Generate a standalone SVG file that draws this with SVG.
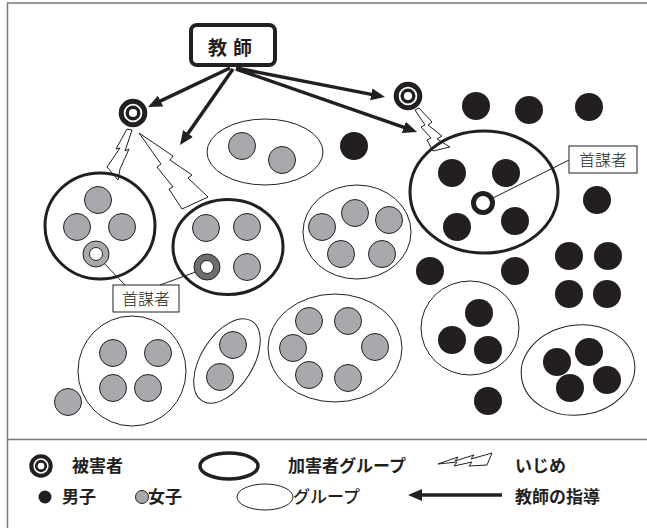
<svg xmlns="http://www.w3.org/2000/svg" width="647" height="528" viewBox="0 0 647 528">
<style>
.frame{fill:none;stroke:#7a7a7a;stroke-width:1.5}
.g{fill:#a7a9ac;stroke:#231f20;stroke-width:1}
.b{fill:#231f20}
.bold{fill:none;stroke:#231f20;stroke-width:3}
.thin{fill:none;stroke:#231f20;stroke-width:1}
.bolt{fill:#fff;stroke:#231f20;stroke-width:1;stroke-linejoin:miter}
.arr{fill:none;stroke:#231f20;stroke-width:3.5}
.lead{fill:none;stroke:#231f20;stroke-width:1}
.lbl{fill:#fff;stroke:#231f20;stroke-width:1}
.jp{font-family:"Noto Sans CJK JP","Noto Sans CJK SC",sans-serif;fill:#231f20}
.lt{font-size:16px;font-weight:300}
.lg{font-size:17px;font-weight:700}
</style>
<defs>
<marker id="ah" markerWidth="14" markerHeight="12" refX="4" refY="6" orient="auto" markerUnits="userSpaceOnUse">
<path d="M0,0 L14,6 L0,12 z" fill="#231f20"/>
</marker>
<g id="victim">
<circle r="11.8" fill="#fff" stroke="#231f20" stroke-width="5"/>
<circle r="5.8" fill="#fff" stroke="#231f20" stroke-width="3.4"/>
</g>
</defs>

<!-- frame -->
<path class="frame" d="M7.5,528 V3 H647"/>
<line class="frame" x1="7.5" y1="439.5" x2="647" y2="439.5"/>

<!-- teacher -->
<g id="teacher">
<rect x="191" y="25" width="84" height="40" rx="6" fill="#fff" stroke="#231f20" stroke-width="4"/>
<text class="jp" x="233" y="54.5" font-size="19" font-weight="700" text-anchor="middle" letter-spacing="6">教師</text>
</g>

<!-- connectors -->
<g id="connectors">
<path class="arr" d="M230,68 L157,102.7" marker-end="url(#ah)"/>
<path class="arr" d="M233,69 L185.7,136.8" marker-end="url(#ah)"/>
<path class="arr" d="M236,68 L375.2,95.1" marker-end="url(#ah)"/>
<path class="arr" d="M236,69 L407.6,128.7" marker-end="url(#ah)"/>
<polygon class="bolt" points="127,129 132,130 125,151 129,149 120,169 118,180 107,167 120,148 116,149"/>
<polygon class="bolt" points="139,133 173,156 170,160 192,175 188,178 208,197 182,209 169,189 173,187 157,167 161,164"/>
<polygon class="bolt" points="415,110 419,108 432,122 428,125 442,136 437,139 450,147 433,151 427,140 431,138 421,127 425,125"/>
<line class="lead" x1="100" y1="259" x2="125" y2="285"/>
<line class="lead" x1="160" y1="285" x2="201" y2="270"/>
<line class="lead" x1="569" y1="160" x2="489" y2="200"/>
</g>

<!-- victims -->
<g id="victim-left"><use href="#victim" x="133" y="113"/></g>
<g id="victim-right"><use href="#victim" x="408" y="96"/></g>

<!-- bully group left -->
<g id="bully-group-1">
<ellipse class="bold" cx="100" cy="226" rx="55" ry="53"/>
<circle class="g" cx="98" cy="200" r="13.5"/>
<circle class="g" cx="77" cy="227" r="13.5"/>
<circle class="g" cx="122" cy="227" r="13.5"/>
<circle class="g" cx="96" cy="254" r="13"/>
<circle fill="#fff" stroke="#231f20" stroke-width="1" cx="96" cy="254" r="6.5"/>
</g>

<!-- bully group 2 -->
<g id="bully-group-2">
<ellipse class="bold" cx="228" cy="247" rx="55" ry="47.5"/>
<circle class="g" cx="206" cy="228" r="13.5"/>
<circle class="g" cx="247" cy="227" r="13.5"/>
<circle class="g" cx="247" cy="267" r="13.5"/>
<circle fill="#6d6e71" stroke="#231f20" stroke-width="1" cx="207" cy="267" r="13"/>
<circle fill="#fff" stroke="#231f20" stroke-width="1" cx="207" cy="267" r="6.5"/>
</g>

<!-- bully group right (boys) -->
<g id="bully-group-3">
<ellipse class="bold" cx="484" cy="192" rx="74" ry="61"/>
<circle class="b" cx="452" cy="173" r="14"/>
<circle class="b" cx="506" cy="173" r="14"/>
<circle class="b" cx="457" cy="227" r="14"/>
<circle class="b" cx="515" cy="221" r="14"/>
<circle fill="#fff" stroke="#231f20" stroke-width="5" cx="483" cy="203" r="9.5"/>
</g>

<!-- leader labels -->
<g id="label-leader-left">
<rect class="lbl" x="113" y="285" width="66" height="27"/>
<text class="jp lt" x="146" y="304.5" text-anchor="middle">首謀者</text>
</g>
<g id="label-leader-right">
<rect class="lbl" x="569" y="146" width="68" height="27"/>
<text class="jp lt" x="603" y="165.5" text-anchor="middle">首謀者</text>
</g>

<!-- girl groups -->
<g id="group-girls-2">
<ellipse class="thin" cx="265" cy="152" rx="58" ry="33"/>
<circle class="g" cx="242" cy="146" r="13.5"/>
<circle class="g" cx="282" cy="160" r="13.5"/>
</g>
<g id="group-girls-5">
<ellipse class="thin" cx="357" cy="232" rx="54" ry="47"/>
<circle class="g" cx="322" cy="227" r="13.5"/>
<circle class="g" cx="355" cy="213" r="13.5"/>
<circle class="g" cx="389" cy="220" r="13.5"/>
<circle class="g" cx="341" cy="254" r="13.5"/>
<circle class="g" cx="382" cy="254" r="13.5"/>
</g>
<g id="group-girls-4">
<ellipse class="thin" cx="132" cy="371" rx="54" ry="55"/>
<circle class="g" cx="113" cy="353" r="13.5"/>
<circle class="g" cx="158" cy="353" r="13.5"/>
<circle class="g" cx="113" cy="388" r="13.5"/>
<circle class="g" cx="148" cy="388" r="13.5"/>
</g>
<g id="girl-alone"><circle class="g" cx="68" cy="402" r="13.5"/></g>
<g id="group-girls-pair">
<ellipse class="thin" cx="227" cy="361" rx="26" ry="47" transform="rotate(32 227 361)"/>
<circle class="g" cx="233" cy="345" r="13.5"/>
<circle class="g" cx="220" cy="377" r="13.5"/>
</g>
<g id="group-girls-6">
<ellipse class="thin" cx="335" cy="348" rx="67" ry="54" stroke-width="1.3"/>
<circle class="g" cx="309" cy="321" r="13.5"/>
<circle class="g" cx="293" cy="348" r="13.5"/>
<circle class="g" cx="309" cy="375" r="13.5"/>
<circle class="g" cx="348" cy="321" r="13.5"/>
<circle class="g" cx="375" cy="347" r="13.5"/>
<circle class="g" cx="348" cy="378" r="13.5"/>
</g>

<!-- boy groups -->
<g id="group-boys-3">
<ellipse class="thin" cx="470" cy="328" rx="49" ry="47"/>
<circle class="b" cx="479" cy="313" r="14"/>
<circle class="b" cx="452" cy="340" r="14"/>
<circle class="b" cx="488" cy="350" r="14"/>
</g>
<g id="group-boys-4">
<ellipse class="thin" cx="578" cy="370" rx="57" ry="45" transform="rotate(-8 578 370)"/>
<circle class="b" cx="557" cy="362" r="14"/>
<circle class="b" cx="589" cy="352" r="14"/>
<circle class="b" cx="570" cy="388" r="14"/>
<circle class="b" cx="607" cy="380" r="14"/>
</g>

<!-- lone boys -->
<g id="boys-alone">
<circle class="b" cx="476" cy="106" r="14"/>
<circle class="b" cx="529" cy="110" r="14"/>
<circle class="b" cx="589" cy="107" r="14"/>
<circle class="b" cx="354" cy="146" r="14"/>
<circle class="b" cx="597" cy="200" r="14"/>
<circle class="b" cx="430" cy="271" r="14"/>
<circle class="b" cx="515" cy="271" r="14"/>
<circle class="b" cx="569" cy="256" r="14"/>
<circle class="b" cx="608" cy="256" r="14"/>
<circle class="b" cx="569" cy="294" r="14"/>
<circle class="b" cx="607" cy="294" r="14"/>
<circle class="b" cx="488" cy="401" r="14"/>
</g>

<!-- legend -->
<g id="legend">
<use href="#victim" transform="translate(41,466) scale(0.82)"/>
<text class="jp lg" x="72" y="471.5">被害者</text>
<ellipse fill="none" stroke="#231f20" stroke-width="3.5" cx="229" cy="466" rx="29" ry="13"/>
<text class="jp lg" x="288" y="471.5">加害者グループ</text>
<polygon class="bolt" points="438,464 458,457 455,461 474,455 471,459 492,453 487,465 469,466 472,462 454,466 457,462"/>
<text class="jp lg" x="515" y="471.5">いじめ</text>
<circle class="b" cx="45" cy="497" r="6.5"/>
<text class="jp lg" x="62" y="503">男子</text>
<circle class="g" cx="142" cy="497" r="6.5"/>
<text class="jp lg" x="148" y="503">女子</text>
<ellipse class="thin" cx="265" cy="497" rx="28" ry="13"/>
<text class="jp" x="293" y="503" font-size="17" font-weight="500">グループ</text>
<path class="arr" d="M502,495 L418,495" stroke-width="4" marker-end="url(#ah)"/>
<text class="jp lg" x="515" y="503">教師の指導</text>
</g>
</svg>
